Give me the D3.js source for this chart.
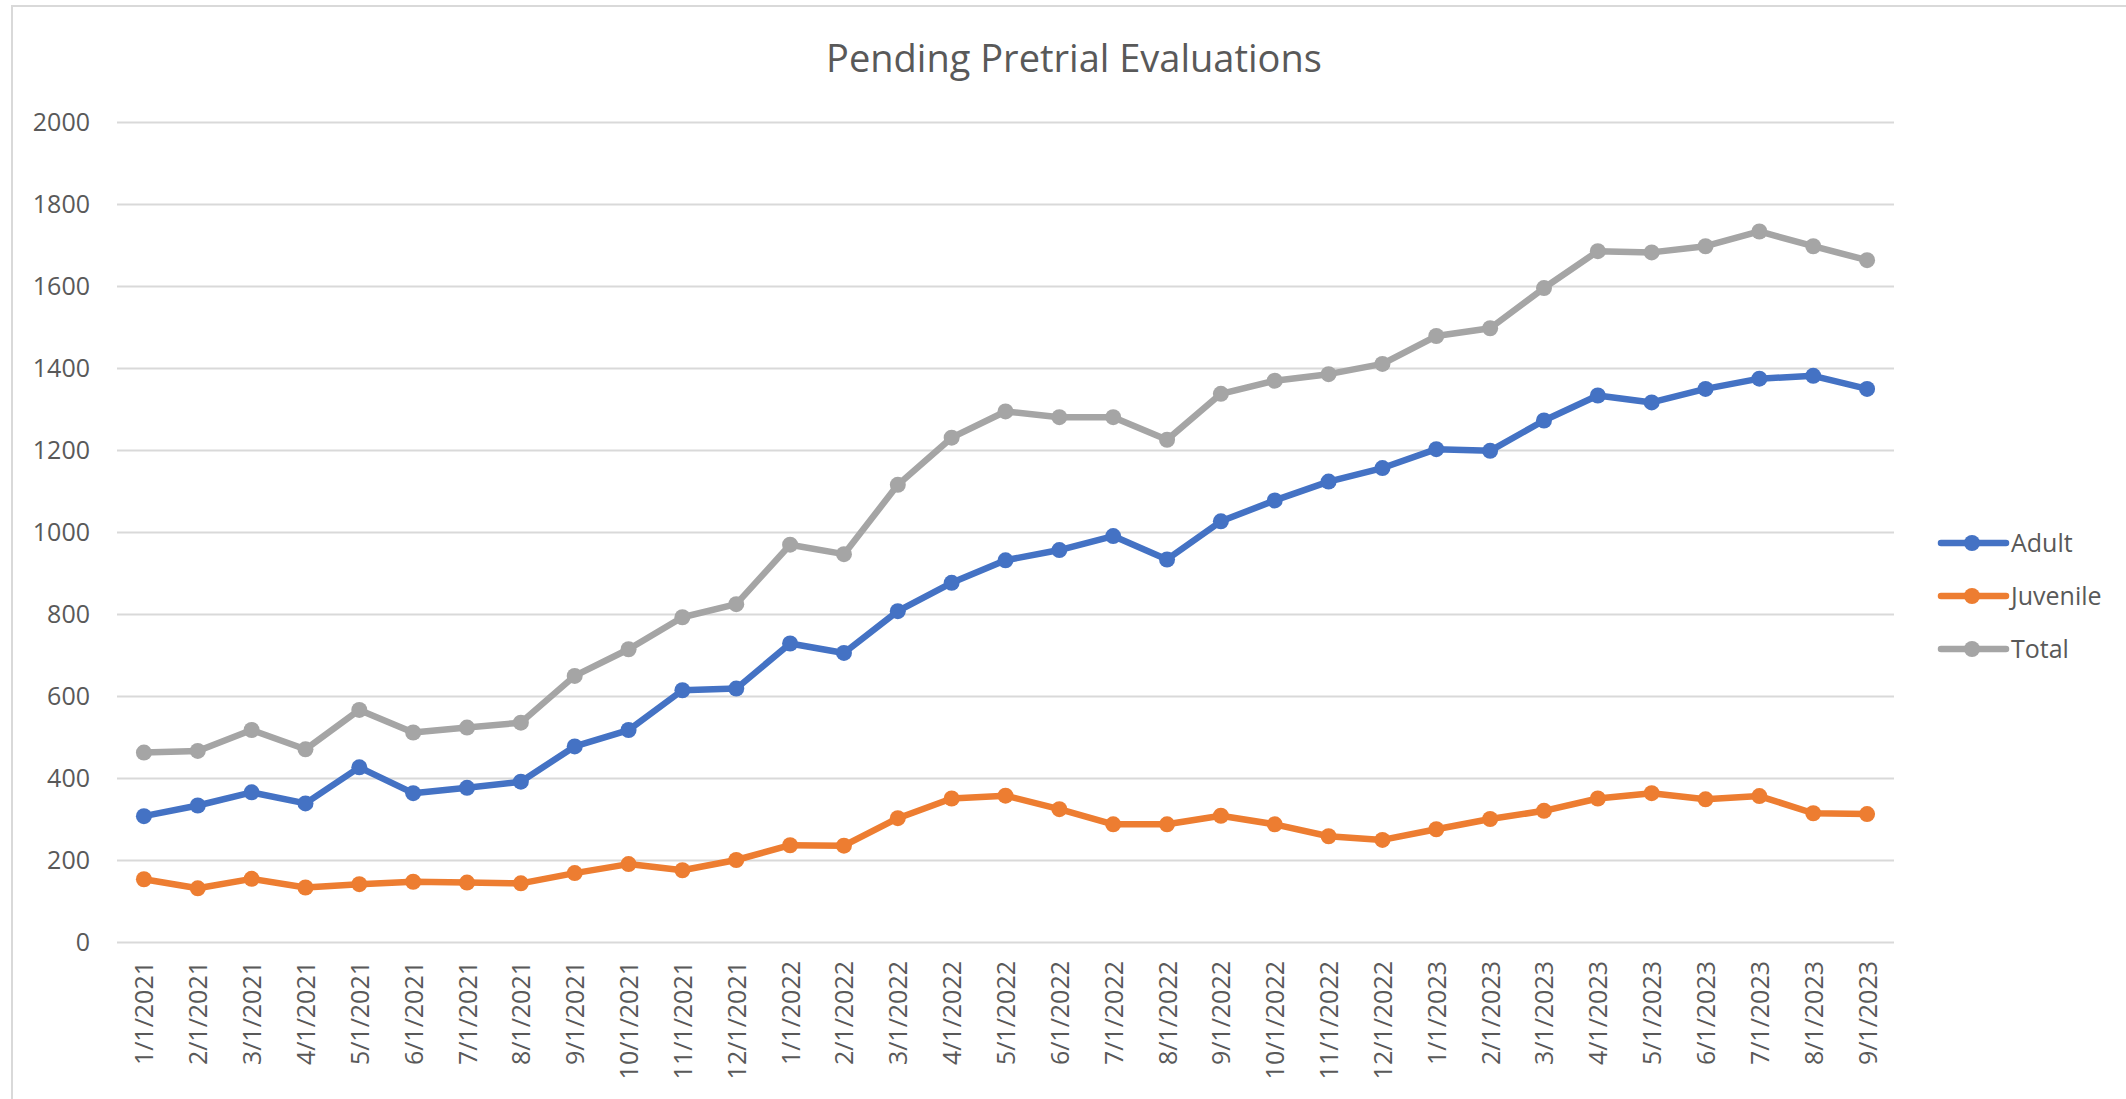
<!DOCTYPE html>
<html>
<head>
<meta charset="utf-8">
<script src="https://cdn.jsdelivr.net/npm/d3@7"></script>
<style>
  html, body { margin: 0; padding: 0; background: #ffffff; }
  svg { display: block; }
  text { font-family: "Open Sans", "Liberation Sans", sans-serif; fill: #595959; }
</style>
</head>
<body>
<svg id="chart" width="2126" height="1099"></svg>
<script>
const title = "Pending Pretrial Evaluations";

const categories = [
  "1/1/2021","2/1/2021","3/1/2021","4/1/2021","5/1/2021","6/1/2021","7/1/2021","8/1/2021",
  "9/1/2021","10/1/2021","11/1/2021","12/1/2021",
  "1/1/2022","2/1/2022","3/1/2022","4/1/2022","5/1/2022","6/1/2022","7/1/2022","8/1/2022",
  "9/1/2022","10/1/2022","11/1/2022","12/1/2022",
  "1/1/2023","2/1/2023","3/1/2023","4/1/2023","5/1/2023","6/1/2023","7/1/2023","8/1/2023","9/1/2023"
];

const adult = [307, 333, 365, 338, 426, 363, 376, 391, 477, 517, 614, 618, 728, 705, 807, 876,
  931, 956, 990, 933, 1026, 1077, 1123, 1156, 1202, 1198, 1272, 1333, 1316, 1349, 1374, 1381, 1349];

const juvenile = [153, 131, 154, 133, 141, 147, 145, 143, 168, 190, 175, 200, 236, 235, 302, 350,
  357, 324, 287, 287, 308, 287, 258, 249, 275, 300, 320, 350, 363, 348, 356, 314, 312];

const total = [462, 466, 517, 470, 566, 511, 523, 535, 649, 714, 792, 824, 969, 946, 1115, 1230,
  1294, 1280, 1280, 1225, 1337, 1369, 1385, 1410, 1478, 1497, 1595, 1685, 1682, 1697, 1733, 1697, 1663];

const seriesNames = ["Adult", "Juvenile", "Total"];
const seriesColors = ["#4472C4", "#ED7D31", "#A5A5A5"];
const yTicks = [0, 200, 400, 600, 800, 1000, 1200, 1400, 1600, 1800, 2000];

const series = [adult, juvenile, total];

const svg = d3.select("#chart");

// chart border (top & left visible, rest cropped)
svg.append("rect")
  .attr("x", 12).attr("y", 6)
  .attr("width", 2200).attr("height", 1200)
  .attr("fill", "none").attr("stroke", "#d9d9d9").attr("stroke-width", 2);

const plotLeft = 117, plotRight = 1894, plotTop = 122, plotBottom = 942;

const x = d3.scalePoint().domain(categories).range([plotLeft, plotRight]).padding(0.5);
const y = d3.scaleLinear().domain([0, 2000]).range([plotBottom, plotTop]);

// title
svg.append("text")
  .attr("x", 1074).attr("y", 72)
  .attr("text-anchor", "middle")
  .style("font-size", "38px")
  .text(title);

// y axis with gridlines
const yAxis = svg.append("g")
  .attr("transform", `translate(${plotLeft},0)`)
  .call(d3.axisLeft(y).tickValues(yTicks).tickFormat(d3.format("d"))
    .tickSizeInner(-(plotRight - plotLeft)).tickSizeOuter(0).tickPadding(27));
yAxis.select(".domain").remove();
yAxis.selectAll(".tick line").attr("stroke", "#d9d9d9").attr("stroke-width", 2);
yAxis.selectAll(".tick text").style("font-size", "25px").attr("fill", "#595959");

// x axis labels
const xAxis = svg.append("g")
  .attr("transform", `translate(0,${plotBottom})`)
  .call(d3.axisBottom(x).tickSize(0).tickPadding(0));
xAxis.select(".domain").remove();
xAxis.selectAll(".tick text")
  .style("font-size", "25px")
  .attr("fill", "#595959")
  .attr("transform", "rotate(-90)")
  .attr("text-anchor", "end")
  .attr("x", -19)
  .attr("y", 0)
  .attr("dy", "0.36em");

// lines & markers
const line = d3.line()
  .x((d, i) => x(categories[i]))
  .y(d => y(d));

series.forEach((vals, si) => {
  const g = svg.append("g");
  g.append("path")
    .datum(vals)
    .attr("d", line)
    .attr("fill", "none")
    .attr("stroke", seriesColors[si])
    .attr("stroke-width", 6.5)
    .attr("stroke-linejoin", "round")
    .attr("stroke-linecap", "round");
  g.selectAll("circle")
    .data(vals)
    .join("circle")
    .attr("cx", (d, i) => x(categories[i]))
    .attr("cy", d => y(d))
    .attr("r", 8)
    .attr("fill", seriesColors[si]);
});

// legend
const legend = svg.append("g");
seriesNames.forEach((name, i) => {
  const ly = 543 + i * 53;
  legend.append("line")
    .attr("x1", 1941).attr("x2", 2006)
    .attr("y1", ly).attr("y2", ly)
    .attr("stroke", seriesColors[i]).attr("stroke-width", 6.5)
    .attr("stroke-linecap", "round");
  legend.append("circle")
    .attr("cx", 1972).attr("cy", ly).attr("r", 8)
    .attr("fill", seriesColors[i]);
  legend.append("text")
    .attr("x", 2011).attr("y", ly)
    .attr("dy", "0.36em")
    .style("font-size", "25px")
    .text(name);
});
</script>
</body>
</html>
